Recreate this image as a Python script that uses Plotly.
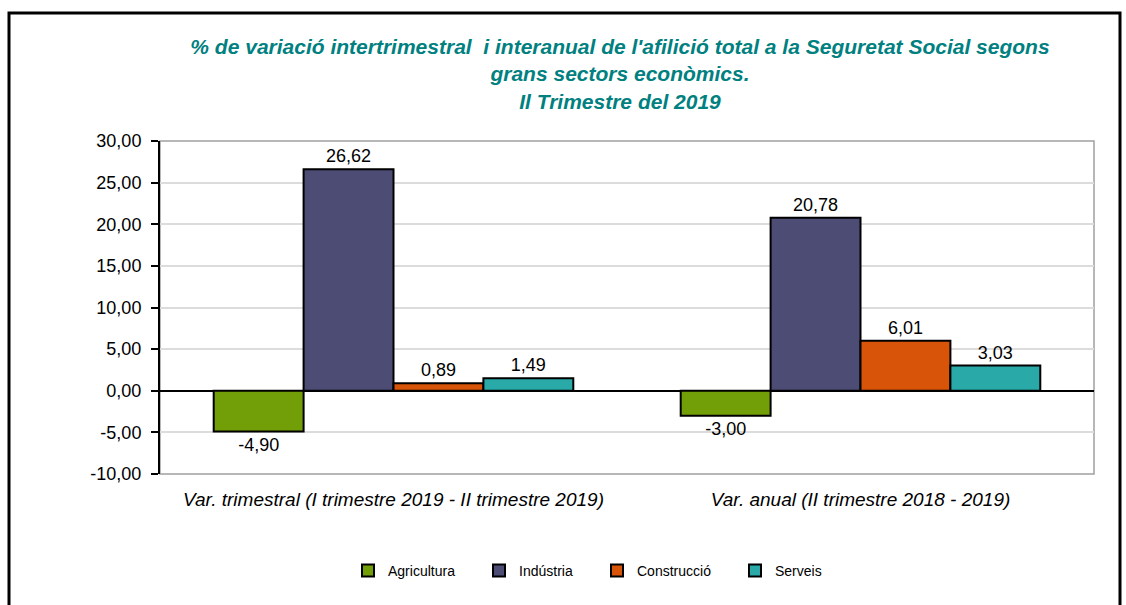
import plotly.graph_objects as go

categories = ["Var. trimestral (I trimestre 2019 - II trimestre 2019)",
              "Var. anual (II trimestre 2018 - 2019)"]
series_names = ["Agricultura", "Indústria", "Construcció", "Serveis"]
agricultura = [-4.90, -3.00]
industria = [26.62, 20.78]
construccio = [0.89, 6.01]
serveis = [1.49, 3.03]
y_ticks = [-10, -5, 0, 5, 10, 15, 20, 25, 30]

values = [agricultura, industria, construccio, serveis]
colors = ["#729e08", "#4c4c74", "#d85408", "#2aa9a9"]
FONT = "Liberation Sans, Arial, sans-serif"

L, R, T, B = 160, 32, 141, 131
PW, PH = 1126 - L - R, 605 - T - B

def px(X):
    return (X - L) / PW

def py(Y):
    return (605 - B - Y) / PH

def fmt(v):
    return f"{v:.2f}".replace(".", ",")

fig = go.Figure()
legend_ids = ["legend2", "legend3", "legend4", "legend5"]
text_x = [388, 519, 637, 775]
for i, (name, vals, col) in enumerate(zip(series_names, values, colors)):
    fig.add_trace(go.Bar(
        x=categories, y=vals, name=name,
        marker=dict(color=col, line=dict(color="black", width=2)),
        text=[fmt(v) for v in vals],
        textposition="outside", cliponaxis=False,
        textfont=dict(family=FONT, size=18, color="black"),
        legend=legend_ids[i], showlegend=True,
    ))

legend_common = dict(orientation="h", font=dict(family=FONT, size=14, color="black"),
                     bgcolor="rgba(0,0,0,0)", itemwidth=30, yanchor="middle",
                     xanchor="left", y=py(571))
layout_legends = {}
for i, lid in enumerate(legend_ids):
    layout_legends[lid] = dict(legend_common, x=px(text_x[i] - 40))

fig.update_layout(
    width=1126, height=605,
    margin=dict(l=L, r=R, t=T, b=B, autoexpand=False),
    paper_bgcolor="white", plot_bgcolor="white",
    separators=",.",
    barmode="group", bargap=0.23, bargroupgap=0,
    showlegend=True,
    font=dict(family=FONT, size=16, color="black"),
    title=dict(
        text="<b><i>% de variació intertrimestral  i interanual de l'afilició total a la Seguretat Social segons<br>grans sectors econòmics.<br>Il Trimestre del 2019</i></b>",
        font=dict(family=FONT, size=21, color="#008080"),
        x=px(620), xref="paper", xanchor="center",
        y=1 - 54 / 605, yref="container", yanchor="top",
    ),
    xaxis=dict(showgrid=False, ticks="outside", ticklen=8, tickcolor="rgba(0,0,0,0)",
               tickvals=categories, ticktext=[f"<i>{c}</i>" for c in categories],
               tickfont=dict(family=FONT, size=19, color="black"),
               showline=False),
    yaxis=dict(range=[-10, 30], tickvals=y_ticks, ticktext=[fmt(t) for t in y_ticks],
               showgrid=True, gridcolor="#dcdcdc", gridwidth=2,
               zeroline=True, zerolinecolor="black", zerolinewidth=2,
               showline=True, linecolor="black", linewidth=2,
               ticks="outside", ticklen=7, tickwidth=2, tickcolor="black",
               ticklabelstandoff=6,
               tickfont=dict(family=FONT, size=18, color="black")),
    shapes=[
        dict(type="rect", xref="paper", yref="paper", x0=0, x1=1, y0=0, y1=1,
             line=dict(color="#a0a0a0", width=1.5), layer="below"),
        dict(type="rect", xref="paper", yref="paper", x0=px(9), x1=px(1120),
             y0=py(620), y1=py(13), line=dict(color="black", width=3)),
    ],
    **layout_legends,
)

fig.write_html("out.html", config={"displayModeBar": False})
with open("out.html", encoding="utf-8") as f:
    html = f.read()
html = html.replace("<head>", '<head><style>html,body{margin:0;padding:0;overflow:hidden}</style>', 1)
with open("out.html", "w", encoding="utf-8") as f:
    f.write(html)
